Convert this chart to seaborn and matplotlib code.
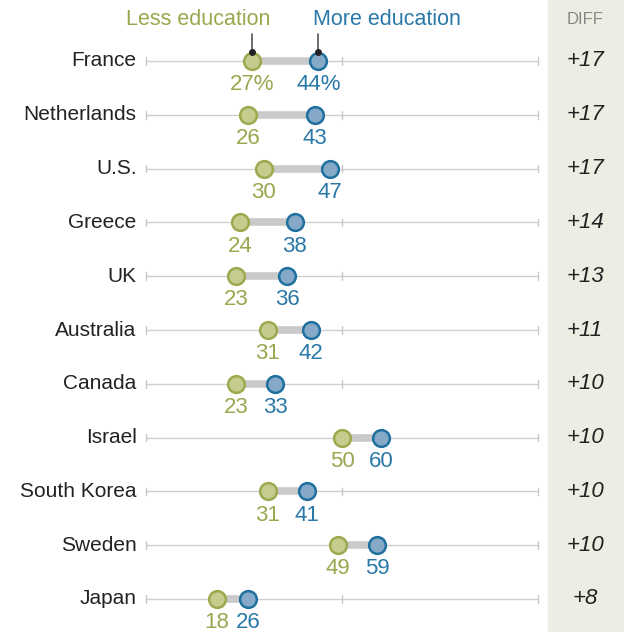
#!/usr/bin/env python3
import matplotlib
matplotlib.use("Agg")
import matplotlib.pyplot as plt
import seaborn as sns
import pandas as pd

# data
countries = ["France", "Netherlands", "U.S.", "Greece", "UK", "Australia",
             "Canada", "Israel", "South Korea", "Sweden", "Japan"]
less_edu = [27, 26, 30, 24, 23, 31, 23, 50, 31, 49, 18]
more_edu = [44, 43, 47, 38, 36, 42, 33, 60, 41, 59, 26]
diff_labels = ["+17", "+17", "+17", "+14", "+13", "+11", "+10", "+10", "+10", "+10", "+8"]

sns.set_theme(style="white")
plt.rcParams["font.family"] = ["Liberation Sans", "DejaVu Sans"]

green_edge = "#9DA94E"
green_fill = "#C6CC8E"
green_text = "#9BA64E"
blue_edge = "#20709F"
blue_fill = "#85A9C6"
blue_text = "#2A78A8"

df = pd.DataFrame({"country": countries, "row": range(len(countries)),
                   "less": less_edu, "more": more_edu})

fig = plt.figure(figsize=(6.24, 6.32), dpi=100)
ax = fig.add_axes([0, 0, 1, 1])
# map 0..100 onto pixels 146..538, rows at 61 + 53.8*i
ax.set_xlim(-146 / 3.92, (624 - 146) / 3.92)
ax.set_ylim((632 - 61) / 53.8, -61 / 53.8)
ax.axis("off")

# DIFF column background
ax.axvspan((548 - 146) / 3.92, (624 - 146) / 3.92, color="#EDEDE4", zorder=0)

for i, row in df.iterrows():
    y = row["row"]
    ax.plot([0, 100], [y, y], color="#D0D0D0", lw=1, zorder=1)
    for t in (0, 50, 100):
        ax.plot([t, t], [y - 0.07, y + 0.07], color="#C8C8C8", lw=1, zorder=1)
    ax.plot([row["less"], row["more"]], [y, y], color="#CACACA", lw=5.5,
            solid_capstyle="butt", zorder=2)
    ax.text(-2.4, y, row["country"], ha="right", va="center", fontsize=15, color="#222222")
    suffix = "%" if i == 0 else ""
    ax.text(row["less"], y + 0.44, f"{row['less']}{suffix}", ha="center", va="center",
            fontsize=16, color=green_text)
    ax.text(row["more"], y + 0.44, f"{row['more']}{suffix}", ha="center", va="center",
            fontsize=16, color=blue_text)
    ax.text(112, y, diff_labels[i], ha="center", va="center", fontsize=16,
            style="italic", color="#222222")

sns.scatterplot(data=df, x="less", y="row", ax=ax, s=145, color=green_fill,
                edgecolor=green_edge, linewidth=1.8, zorder=3, legend=False)
sns.scatterplot(data=df, x="more", y="row", ax=ax, s=145, color=blue_fill,
                edgecolor=blue_edge, linewidth=1.8, zorder=3, legend=False)
ax.set_xlabel("")
ax.set_ylabel("")

# header labels with pointers to the first row
ax.text((198 - 146) / 3.92, -0.78, "Less education", ha="center", va="center",
        fontsize=15.5, color=green_text)
ax.text((387 - 146) / 3.92, -0.78, "More education", ha="center", va="center",
        fontsize=15.5, color=blue_text)
for v in (less_edu[0], more_edu[0]):
    ax.plot([v, v], [-0.5, -0.17], color="#555555", lw=1.2, zorder=4)
    ax.plot([v], [-0.17], marker="o", ms=4, color="#222222", zorder=4)

ax.text(112, -0.77, "DIFF", ha="center", va="center", fontsize=12, color="#888888")

fig.savefig("out.png", dpi=100)
